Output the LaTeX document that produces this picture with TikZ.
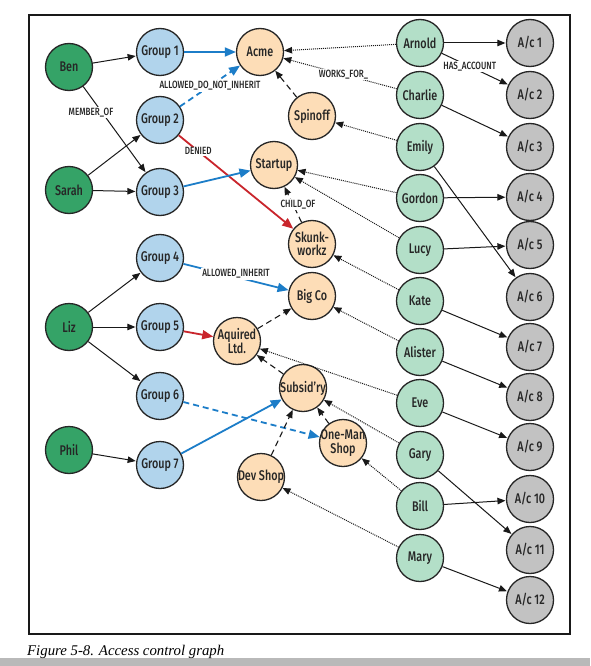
\documentclass[tikz,border=0pt]{standalone}
\usepackage{fontspec}
\setmainfont{Fira Sans}[FakeStretch=0.77, UprightFont={* Medium}]
\newfontfamily\capfont{Liberation Serif}
\usepackage{xcolor}
\usepackage{tikz}
\usetikzlibrary{arrows.meta}

\definecolor{persongreen}{HTML}{35A367}
\definecolor{staffgreen}{HTML}{B3DFC8}
\definecolor{groupblue}{HTML}{B1D4EC}
\definecolor{companypeach}{HTML}{FDDDB7}
\definecolor{accountgray}{HTML}{C2C2C2}
\definecolor{allowblue}{HTML}{1C7DC8}
\definecolor{deniedred}{HTML}{C9252C}

\begin{document}
\begin{tikzpicture}[
    x=1pt, y=-1pt,
    >={Triangle[length=8pt,width=6.5pt]},
    ent/.style={circle, draw=black!85, line width=1.3pt, minimum size=47pt,
                inner sep=-7pt, align=center, text=black!85,
                font=\fontsize{14}{13.5}\selectfont},
    person/.style={ent, fill=persongreen},
    grp/.style={ent, fill=groupblue},
    company/.style={ent, fill=companypeach},
    staff/.style={ent, fill=staffgreen},
    account/.style={ent, fill=accountgray},
    lbl/.style={fill=white, inner sep=1pt, text=black!85,
                font=\fontsize{10.5}{11}\selectfont},
    memberline/.style={->, line width=1pt, black!90, shorten >=0.5pt},
    hasline/.style={memberline},
    allowline/.style={-{Triangle[length=11pt,width=9pt]}, line width=1.8pt, allowblue},
    deniedline/.style={-{Triangle[length=11pt,width=9pt]}, line width=1.8pt, deniedred},
    childline/.style={->, line width=1.1pt, black!90, dash pattern=on 6pt off 4pt},
    worksline/.style={->, line width=1pt, black!90, dash pattern=on 1pt off 1pt}
]
    \useasboundingbox (0,0) rectangle (590,666);
    \fill[white] (0,0) rectangle (590,666);
    \draw[line width=1.2pt, black!90] (29,15) rectangle (570,634);
    \fill[gray!55] (0,658) rectangle (590,666);
    \node[anchor=west, inner sep=0pt, font=\capfont\itshape\fontsize{14.8}{15}\selectfont]
        (caption) at (27,652) {Figure 5-8. Access control graph};

    % people
    \node[person] (ben)   at (69,67)  {Ben};
    \node[person] (sarah) at (69,190) {Sarah};
    \node[person] (liz)   at (69,327) {Liz};
    \node[person] (phil)  at (69,450) {Phil};

    % groups
    \node[grp] (g1) at (160,52)  {Group 1};
    \node[grp] (g2) at (160,120) {Group 2};
    \node[grp] (g3) at (160,192) {Group 3};
    \node[grp] (g4) at (160,258) {Group 4};
    \node[grp] (g5) at (160,327) {Group 5};
    \node[grp] (g6) at (160,396) {Group 6};
    \node[grp] (g7) at (160,465) {Group 7};

    % companies
    \node[company] (acme)    at (260,52)  {Acme};
    \node[company] (spinoff) at (312,116) {Spinoff};
    \node[company] (startup) at (274,165) {Startup};
    \node[company] (skunk)   at (312,244) {Skunk-\\workz};
    \node[company] (bigco)   at (312,296) {Big Co};
    \node[company] (aquired) at (237,341) {Aquired\\Ltd.};
    \node[company] (subsid)  at (303,388) {Subsid'ry};
    \node[company] (oneman)  at (343,443) {One-Man\\Shop};
    \node[company] (devshop) at (261,477) {Dev Shop};

    % employees
    \node[staff] (arnold)  at (420,43)  {Arnold};
    \node[staff] (charlie) at (420,95)  {Charlie};
    \node[staff] (emily)   at (420,147) {Emily};
    \node[staff] (gordon)  at (420,198) {Gordon};
    \node[staff] (lucy)    at (420,250) {Lucy};
    \node[staff] (kate)    at (420,301) {Kate};
    \node[staff] (alister) at (420,352) {Alister};
    \node[staff] (eve)     at (420,403) {Eve};
    \node[staff] (gary)    at (420,455) {Gary};
    \node[staff] (bill)    at (420,506) {Bill};
    \node[staff] (mary)    at (420,558) {Mary};

    % accounts
    \node[account] (ac1)  at (530,43)  {A/c 1};
    \node[account] (ac2)  at (530,95)  {A/c 2};
    \node[account] (ac3)  at (530,147) {A/c 3};
    \node[account] (ac4)  at (530,197) {A/c 4};
    \node[account] (ac5)  at (530,245) {A/c 5};
    \node[account] (ac6)  at (530,297) {A/c 6};
    \node[account] (ac7)  at (530,347) {A/c 7};
    \node[account] (ac8)  at (530,397) {A/c 8};
    \node[account] (ac9)  at (530,447) {A/c 9};
    \node[account] (ac10) at (530,499) {A/c 10};
    \node[account] (ac11) at (530,550) {A/c 11};
    \node[account] (ac12) at (530,600) {A/c 12};

    % membership
    \draw[memberline] (ben) -- (g1);
    \draw[memberline] (ben) -- node[lbl, pos=0.3, xshift=-11pt] {MEMBER\_OF} (g3);
    \draw[memberline] (sarah) -- (g2);
    \draw[memberline] (sarah) -- (g3);
    \draw[memberline] (liz) -- (g4);
    \draw[memberline] (liz) -- (g5);
    \draw[memberline] (liz) -- (g6);
    \draw[memberline] (phil) -- (g7);

    % permissions
    \draw[allowline] (g1) -- (acme);
    \draw[allowline, dash pattern=on 6pt off 4pt] (g2) --
        node[lbl, pos=0.5] {ALLOWED\_DO\_NOT\_INHERIT} (acme);
    \draw[deniedline] (g2) -- node[lbl, pos=0.17] {DENIED} (skunk);
    \draw[allowline] (g3) -- (startup);
    \draw[allowline] (g4) -- node[lbl, pos=0.5, yshift=3pt] {ALLOWED\_INHERIT} (bigco);
    \draw[deniedline] (g5) -- (aquired);
    \draw[allowline, dash pattern=on 6pt off 4pt] (g6) -- (oneman);
    \draw[allowline] (g7) -- (subsid);

    % company hierarchy
    \draw[childline] (spinoff) -- (acme);
    \draw[childline] (skunk) -- node[lbl, pos=0.5, xshift=5pt] {CHILD\_OF} (startup);
    \draw[childline] (aquired) -- (bigco);
    \draw[childline] (subsid) -- (aquired);
    \draw[childline] (oneman) -- (subsid);
    \draw[childline] (devshop) -- (subsid);

    % employment
    \draw[worksline] (arnold) -- (acme);
    \draw[worksline] (charlie) -- node[lbl, pos=0.47] {WORKS\_FOR\_} (acme);
    \draw[worksline] (emily) -- (spinoff);
    \draw[worksline] (gordon) -- (startup);
    \draw[worksline] (lucy) -- (startup);
    \draw[worksline] (kate) -- (skunk);
    \draw[worksline] (alister) -- (bigco);
    \draw[worksline] (eve) -- (aquired);
    \draw[worksline] (gary) -- (subsid);
    \draw[worksline] (bill) -- (oneman);
    \draw[worksline] (mary) -- (devshop);

    % accounts
    \draw[hasline] (arnold) -- (ac1);
    \draw[hasline] (arnold) -- node[lbl, pos=0.42] {HAS\_ACCOUNT} (ac2);
    \draw[hasline] (charlie) -- (ac3);
    \draw[hasline] (gordon) -- (ac4);
    \draw[hasline] (lucy) -- (ac5);
    \draw[hasline] (emily) -- (ac6);
    \draw[hasline] (kate) -- (ac7);
    \draw[hasline] (alister) -- (ac8);
    \draw[hasline] (eve) -- (ac9);
    \draw[hasline] (bill) -- (ac10);
    \draw[hasline] (gary) -- (ac11);
    \draw[hasline] (mary) -- (ac12);
\end{tikzpicture}
\end{document}
